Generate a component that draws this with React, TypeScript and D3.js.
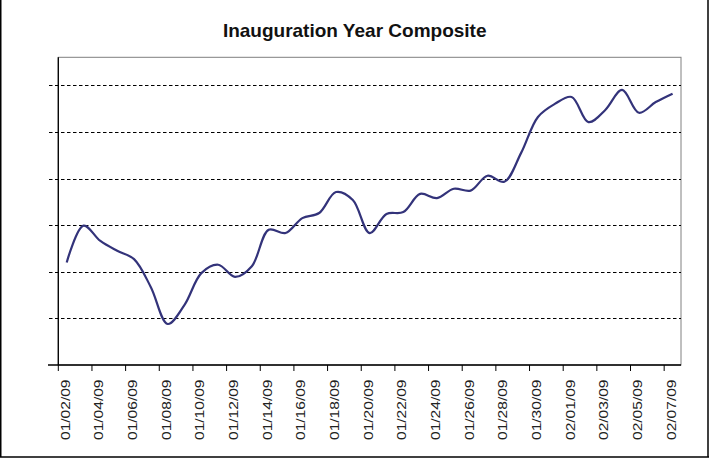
import React from "react";
import * as d3 from "d3";

const categories: string[] = [
  "01/02/09", "01/03/09", "01/04/09", "01/05/09", "01/06/09", "01/07/09", "01/08/09", "01/09/09",
  "01/10/09", "01/11/09", "01/12/09", "01/13/09", "01/14/09", "01/15/09", "01/16/09", "01/17/09",
  "01/18/09", "01/19/09", "01/20/09", "01/21/09", "01/22/09", "01/23/09", "01/24/09", "01/25/09",
  "01/26/09", "01/27/09", "01/28/09", "01/29/09", "01/30/09", "01/31/09", "02/01/09", "02/02/09",
  "02/03/09", "02/04/09", "02/05/09", "02/06/09", "02/07/09",
];

const composite: number[] = [
  2.2, 2.99, 2.66, 2.45, 2.27, 1.67, 0.88, 1.29,
  1.97, 2.15, 1.89, 2.12, 2.9, 2.83, 3.15, 3.26,
  3.71, 3.54, 2.83, 3.24, 3.28, 3.67, 3.58, 3.78,
  3.74, 4.06, 3.93, 4.55, 5.32, 5.6, 5.75, 5.21,
  5.47, 5.9, 5.41, 5.64, 5.82,
];

const gridValues: number[] = [1, 2, 3, 4, 5, 6];
const yMin = 0;
const yMax = 6.6;

const W = 709;
const H = 458;
const left = 58.3;
const right = 681;
const top = 57.3;
const bottom = 365;

export default function App() {
  const x = d3.scaleBand<string>().domain(categories).range([left, right]).padding(0);
  const y = d3.scaleLinear().domain([yMin, yMax]).range([bottom, top]);
  const bw = x.bandwidth();

  const line = d3
    .line<number>()
    .x((_, i) => (x(categories[i]) as number) + bw / 2)
    .y((d) => y(d))
    .curve(d3.curveCatmullRom.alpha(0.5));

  const tickCats = categories.filter((_, i) => i % 2 === 0);
  const font = "'Liberation Sans', Arial, sans-serif";

  return (
    <svg
      width={W}
      height={H}
      style={{ position: "absolute", left: 0, top: 0, display: "block", background: "#fff" }}
    >
      <rect x={0} y={0} width={W} height={H} fill="#fff" />
      {/* outer border */}
      <line x1={0.75} y1={0} x2={0.75} y2={457} stroke="#000" strokeWidth={1.5} />
      <line x1={708} y1={0} x2={708} y2={457} stroke="#000" strokeWidth={1.5} />
      <line x1={0} y1={457} x2={709} y2={457} stroke="#000" strokeWidth={1.5} />

      <text
        x={354.7}
        y={36.5}
        textAnchor="middle"
        fontFamily={font}
        fontWeight="bold"
        fontSize={19}
        fill="#111"
      >
        Inauguration Year Composite
      </text>

      {/* plot area border */}
      <rect x={left} y={top} width={right - left} height={bottom - top} fill="none" stroke="#808080" strokeWidth={1} />

      {/* gridlines */}
      {gridValues.map((v) => (
        <line
          key={v}
          x1={49}
          x2={right}
          y1={Math.round(y(v)) + 0.5}
          y2={Math.round(y(v)) + 0.5}
          stroke="#000"
          strokeWidth={1}
          strokeDasharray="3.5,2.5"
        />
      ))}

      {/* axes */}
      <line x1={left} y1={top} x2={left} y2={bottom} stroke="#000" strokeWidth={1.3} />
      <line x1={48} y1={bottom} x2={right} y2={bottom} stroke="#000" strokeWidth={1.3} />

      {/* x ticks */}
      {tickCats.map((c) => (
        <line
          key={"t" + c}
          x1={(x(c) as number)}
          x2={(x(c) as number)}
          y1={bottom}
          y2={bottom + 6}
          stroke="#000"
          strokeWidth={1}
        />
      ))}

      {/* x labels */}
      {tickCats.map((c) => {
        const cx = (x(c) as number) + bw / 2 - 1.5;
        return (
          <text
            key={"l" + c}
            transform={`translate(${cx},379.5) rotate(-90)`}
            textAnchor="end"
            dy="0.36em"
            fontFamily={font}
            fontSize={12.5}
            fill="#222"
            textLength={60.5}
            lengthAdjust="spacingAndGlyphs"
          >
            {c}
          </text>
        );
      })}

      <path d={line(composite) || ""} fill="none" stroke="#33337a" strokeWidth={2.2} strokeLinejoin="round" />
    </svg>
  );
}
